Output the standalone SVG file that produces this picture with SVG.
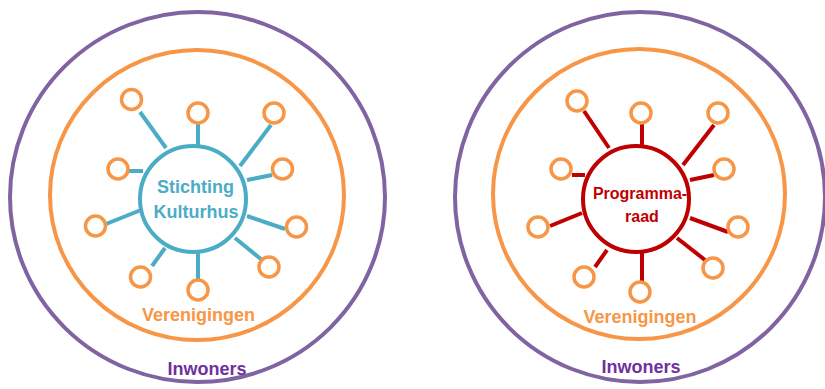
<svg xmlns="http://www.w3.org/2000/svg" width="825" height="389" viewBox="0 0 825 389">
<style>
.outer{fill:none;stroke:#8064A2;stroke-width:4}
.mid{fill:none;stroke:#F79646;stroke-width:4}
.sm{fill:#fff;stroke:#F79646;stroke-width:3.5}
.bl{stroke:#4BACC6;stroke-width:4;fill:none}
.rd{stroke:#C00000;stroke-width:4;fill:none}
.t{font-family:"Liberation Sans",Arial,sans-serif;font-weight:bold;text-anchor:middle}
.inw{fill:#7030A0;font-size:18px}
.ver{fill:#F79646;font-size:18px}
</style>
<rect width="825" height="389" fill="#fff"/>
<g id="left-inwoners">
<ellipse class="outer" cx="197.5" cy="197" rx="187.5" ry="185"/>
<text class="t inw" x="207" y="375">Inwoners</text>
</g>
<g id="left-verenigingen">
<ellipse class="mid" cx="197" cy="195" rx="147" ry="145"/>
<text class="t ver" x="198.5" y="321">Verenigingen</text>
</g>
<g id="left-connectors">
<line class="bl" x1="140" y1="112" x2="166" y2="148"/>
<line class="bl" x1="198" y1="124" x2="198" y2="145"/>
<line class="bl" x1="271" y1="125" x2="240" y2="166"/>
<line class="bl" x1="129" y1="171" x2="143" y2="171"/>
<line class="bl" x1="272" y1="175" x2="247" y2="180"/>
<line class="bl" x1="106" y1="224" x2="141" y2="210"/>
<line class="bl" x1="285" y1="229" x2="247" y2="216"/>
<line class="bl" x1="152" y1="266" x2="165" y2="248"/>
<line class="bl" x1="198" y1="253" x2="198" y2="279"/>
<line class="bl" x1="262" y1="260" x2="235" y2="238"/>
</g>
<g id="left-members">
<circle class="sm" cx="131.5" cy="99.5" r="10"/>
<circle class="sm" cx="198" cy="113" r="10"/>
<circle class="sm" cx="274" cy="113" r="10"/>
<circle class="sm" cx="118" cy="169" r="10"/>
<circle class="sm" cx="282.5" cy="169" r="10"/>
<circle class="sm" cx="95.5" cy="226" r="10"/>
<circle class="sm" cx="296.5" cy="227" r="10"/>
<circle class="sm" cx="140.5" cy="277" r="10"/>
<circle class="sm" cx="198" cy="290" r="10"/>
<circle class="sm" cx="269" cy="267" r="10"/>
</g>
<g id="stichting-kulturhus">
<circle cx="193" cy="199" r="53" fill="#fff" stroke="#4BACC6" stroke-width="4"/>
<text class="t" x="195.5" y="193" font-size="18" fill="#4BACC6">Stichting</text>
<text class="t" x="196" y="218" font-size="18" fill="#4BACC6">Kulturhus</text>
</g>
<g id="right-inwoners">
<ellipse class="outer" cx="640" cy="197" rx="185" ry="185"/>
<text class="t inw" x="641" y="373">Inwoners</text>
</g>
<g id="right-verenigingen">
<ellipse class="mid" cx="639" cy="194" rx="146" ry="145"/>
<text class="t ver" x="640" y="323">Verenigingen</text>
</g>
<g id="right-connectors">
<line class="rd" x1="584" y1="111" x2="609" y2="148"/>
<line class="rd" x1="642" y1="124" x2="642" y2="145"/>
<line class="rd" x1="714" y1="125" x2="683" y2="165"/>
<line class="rd" x1="572" y1="175" x2="585" y2="175"/>
<line class="rd" x1="714" y1="175" x2="690" y2="180"/>
<line class="rd" x1="550" y1="226" x2="582" y2="213"/>
<line class="rd" x1="728" y1="232" x2="690" y2="218"/>
<line class="rd" x1="595" y1="267" x2="607" y2="250"/>
<line class="rd" x1="642" y1="253" x2="642" y2="281"/>
<line class="rd" x1="705" y1="260" x2="677" y2="238"/>
</g>
<g id="right-members">
<circle class="sm" cx="577" cy="101" r="10"/>
<circle class="sm" cx="641" cy="113" r="10"/>
<circle class="sm" cx="718" cy="113" r="10"/>
<circle class="sm" cx="561" cy="169" r="10"/>
<circle class="sm" cx="724" cy="169" r="10"/>
<circle class="sm" cx="538" cy="227" r="10"/>
<circle class="sm" cx="738" cy="227" r="10"/>
<circle class="sm" cx="584" cy="277" r="10"/>
<circle class="sm" cx="640" cy="292" r="10"/>
<circle class="sm" cx="713" cy="268" r="10"/>
</g>
<g id="programmaraad">
<circle cx="636" cy="199" r="53" fill="#fff" stroke="#C00000" stroke-width="4"/>
<text class="t" x="640" y="199" font-size="16" fill="#C00000">Programma-</text>
<text class="t" x="642" y="222" font-size="16" fill="#C00000">raad</text>
</g>
</svg>
